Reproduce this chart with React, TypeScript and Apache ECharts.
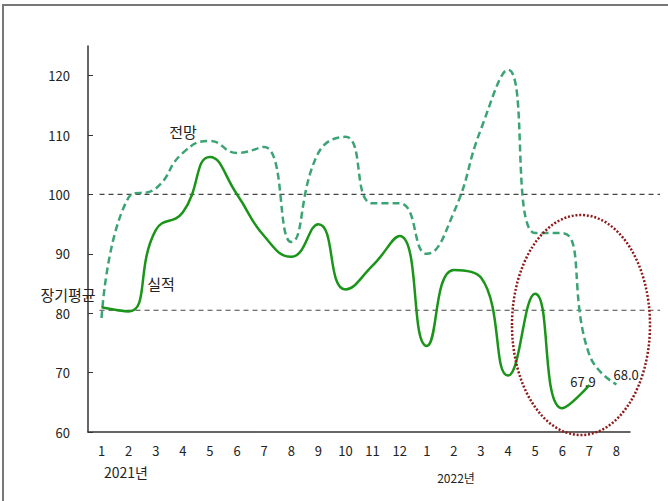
import React, { useEffect, useRef } from "react";
import * as echarts from "echarts";

const months = ["1","2","3","4","5","6","7","8","9","10","11","12","1","2","3","4","5","6","7","8"];
const actual = [81, 80.3, 94, 97, 106.3, 100, 93, 89.5, 95, 84, 88, 93, 74.5, 87.3, 86, 69.5, 83.3, 64, 67.9];
const outlook = [79.2, 99.5, 101, 107, 109, 107, 108, 92, 107, 109.7, 98.5, 98.5, 90, 97, 111, 121, 93.5, 93.5, 73, 68.0];
const yTicks = [60, 70, 80, 90, 100, 110, 120];
const baseline = 100;
const longTermAvg = 80.5;

const FONT = "'Noto Sans CJK KR', 'DejaVu Sans', sans-serif";

export default function App() {
  const ref = useRef<HTMLDivElement>(null);
  useEffect(() => {
    if (!ref.current) return;
    const chart = echarts.init(ref.current, undefined, { renderer: "svg" });
    chart.setOption({
      animation: false,
      backgroundColor: "#ffffff",
      grid: { left: 88, right: 38, top: 46, bottom: 69, containLabel: false },
      xAxis: {
        type: "category",
        data: months,
        boundaryGap: true,
        axisLine: { lineStyle: { color: "#333", width: 1.5 } },
        axisTick: { inside: true, length: 5, interval: 0, lineStyle: { color: "#333" } },
        axisLabel: { color: "#222", fontSize: 13, fontFamily: FONT, margin: 12, interval: 0 },
        splitLine: { show: false },
      },
      yAxis: {
        type: "value",
        min: 60,
        max: 125,
        interval: 10,
        axisLine: { show: true, lineStyle: { color: "#333", width: 1.5 } },
        axisTick: { show: true, inside: true, length: 5, customValues: yTicks, lineStyle: { color: "#333" } },
        axisLabel: { color: "#222", fontSize: 13, fontFamily: FONT, margin: 18, customValues: yTicks },
        splitLine: { show: false },
      },
      series: [
        {
          name: "전망",
          type: "line",
          data: outlook,
          smooth: 0.5,
          symbol: "none",
          lineStyle: { color: "#3ca374", width: 2.5, type: [7, 4] },
          endLabel: {
            show: true,
            distance: 0,
            offset: [-3, -10],
            formatter: (p: any) => Number(p.value).toFixed(1),
            color: "#222",
            fontSize: 13,
            fontFamily: FONT,
          },
          z: 2,
        },
        {
          name: "실적",
          type: "line",
          data: actual,
          smooth: 0.5,
          symbol: "none",
          lineStyle: { color: "#1a951a", width: 2.5 },
          endLabel: {
            show: true,
            distance: 0,
            offset: [-19, -4],
            formatter: (p: any) => Number(p.value).toFixed(1),
            color: "#222",
            fontSize: 13,
            fontFamily: FONT,
          },
          z: 3,
        },
      ],
    });

    const y100 = chart.convertToPixel({ yAxisIndex: 0 }, baseline) as number;
    const yAvg = chart.convertToPixel({ yAxisIndex: 0 }, longTermAvg) as number;
    const x0 = (chart.convertToPixel({ xAxisIndex: 0 }, 0) as number) - 2;

    chart.setOption({
      graphic: [
        { type: "polyline", silent: true, shape: { points: [[3, 501], [3, 5], [668, 5]] }, style: { stroke: "#777", lineWidth: 2, fill: "none" } },
        { type: "line", silent: true, z: 1, shape: { x1: x0, y1: y100, x2: 660, y2: y100 }, style: { stroke: "#444", lineWidth: 1.2, lineDash: [5, 4] } },
        { type: "line", silent: true, z: 1, shape: { x1: x0, y1: yAvg, x2: 660, y2: yAvg }, style: { stroke: "#444", lineWidth: 1.2, lineDash: [5, 4] } },
        { type: "ellipse", silent: true, z: 10, shape: { cx: 581, cy: 325, rx: 69, ry: 110 }, style: { stroke: "#8e1a1a", lineWidth: 2.5, lineDash: [2, 1.8], fill: "none" } },
        { type: "text", silent: true, z: 10, style: { x: 183, y: 131, text: "전망", fontSize: 15, fontFamily: FONT, fill: "#222", align: "center", verticalAlign: "middle" } },
        { type: "text", silent: true, z: 10, style: { x: 161, y: 283, text: "실적", fontSize: 15, fontFamily: FONT, fill: "#222", align: "center", verticalAlign: "middle" } },
        { type: "text", silent: true, z: 10, style: { x: 68, y: 294, text: "장기평균", fontSize: 15, fontFamily: FONT, fill: "#222", align: "center", verticalAlign: "middle" } },
        { type: "text", silent: true, z: 10, style: { x: 126, y: 472, text: "2021년", fontSize: 14, fontFamily: FONT, fill: "#222", align: "center", verticalAlign: "middle" } },
        { type: "text", silent: true, z: 10, style: { x: 456, y: 477, text: "2022년", fontSize: 12, fontFamily: FONT, fill: "#222", align: "center", verticalAlign: "middle" } },
      ],
    });

    return () => chart.dispose();
  }, []);
  return <div ref={ref} style={{ position: "fixed", left: 0, top: 0, width: 668, height: 501 }} />;
}
